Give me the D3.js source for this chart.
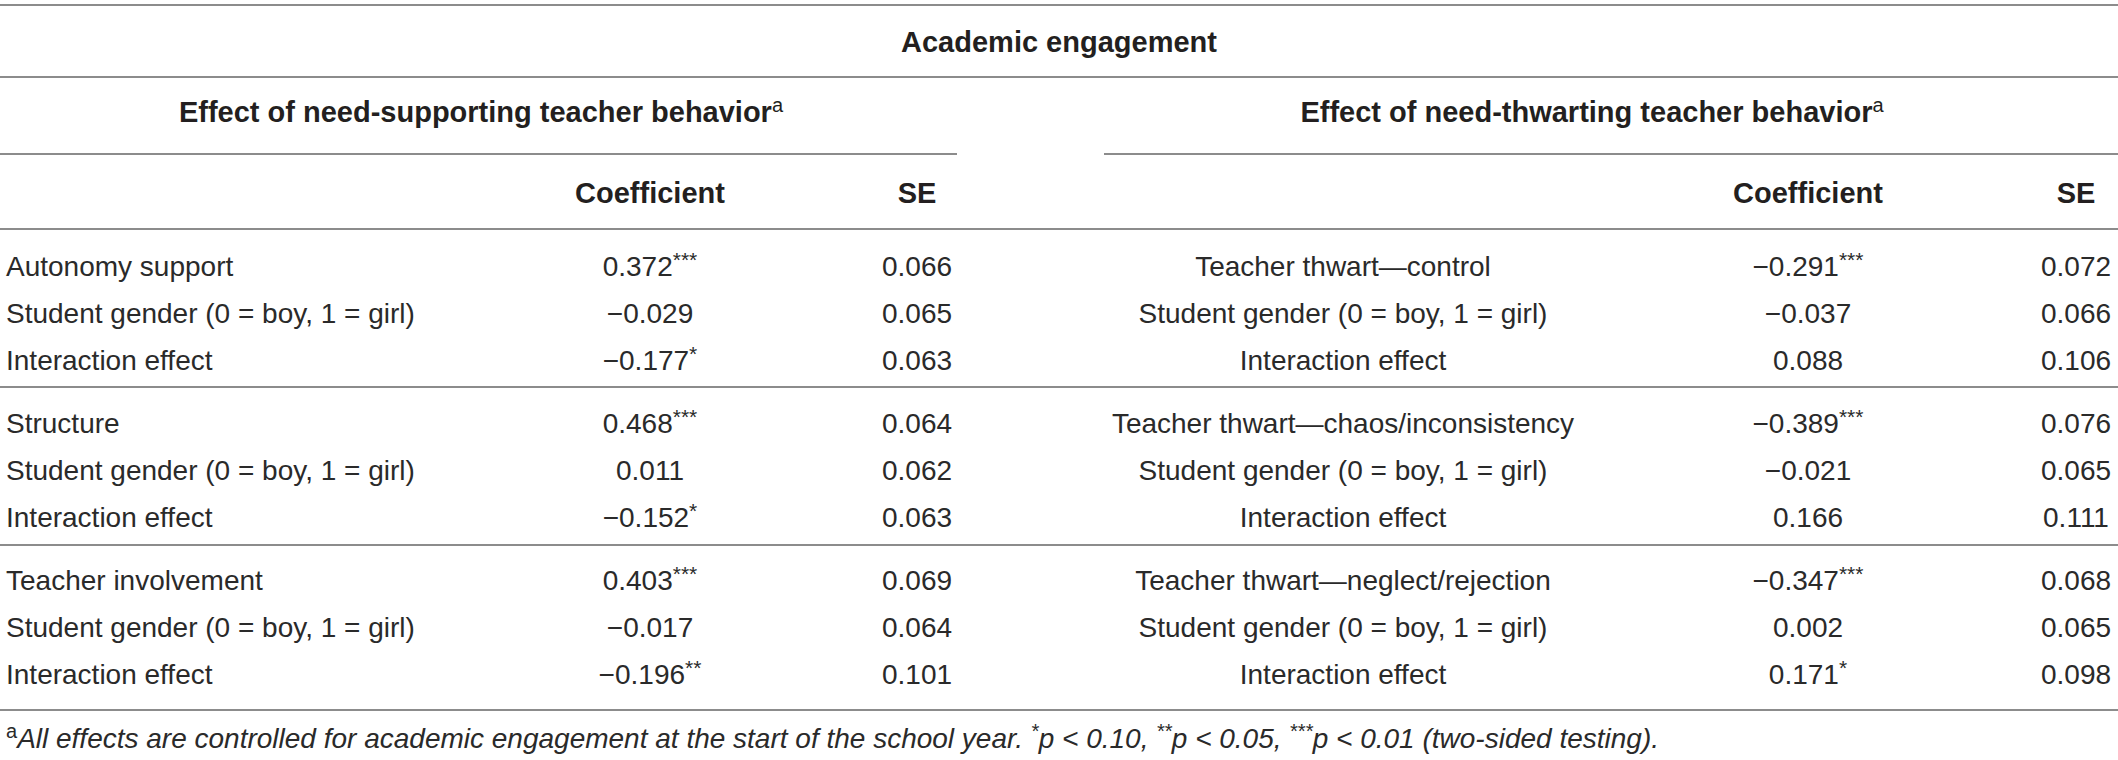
<!DOCTYPE html>
<html>
<head>
<meta charset="utf-8">
<script src="https://cdn.jsdelivr.net/npm/d3@7"></script>
<style>
  body { margin: 0; background: #fff; }
  svg text { font-family: "Liberation Sans", Arial, sans-serif; fill: #2a2a2a; }
  .bold { font-weight: bold; fill: #231f20; }
</style>
</head>
<body>
<svg id="chart" width="2118" height="760"></svg>
<script>
// Table contents
var title = "Academic engagement";
var groupHeaders = ["Effect of need-supporting teacher behavior", "Effect of need-thwarting teacher behavior"];
var colHeaders = ["Coefficient", "SE"];

var supportLabels = ["Autonomy support", "Student gender (0 = boy, 1 = girl)", "Interaction effect",
                     "Structure", "Student gender (0 = boy, 1 = girl)", "Interaction effect",
                     "Teacher involvement", "Student gender (0 = boy, 1 = girl)", "Interaction effect"];
var supportCoef = [0.372, -0.029, -0.177, 0.468, 0.011, -0.152, 0.403, -0.017, -0.196];
var supportStars = ["***", "", "*", "***", "", "*", "***", "", "**"];
var supportSE = [0.066, 0.065, 0.063, 0.064, 0.062, 0.063, 0.069, 0.064, 0.101];

var thwartLabels = ["Teacher thwart\u2014control", "Student gender (0 = boy, 1 = girl)", "Interaction effect",
                    "Teacher thwart\u2014chaos/inconsistency", "Student gender (0 = boy, 1 = girl)", "Interaction effect",
                    "Teacher thwart\u2014neglect/rejection", "Student gender (0 = boy, 1 = girl)", "Interaction effect"];
var thwartCoef = [-0.291, -0.037, 0.088, -0.389, -0.021, 0.166, -0.347, 0.002, 0.171];
var thwartStars = ["***", "", "", "***", "", "", "***", "", "*"];
var thwartSE = [0.072, 0.066, 0.106, 0.076, 0.065, 0.111, 0.068, 0.065, 0.098];

// footnote pieces: [text, superscript?]
var footnoteParts = [
  ["a", true],
  ["All effects are controlled for academic engagement at the start of the school year. ", false],
  ["*", true], ["p < 0.10, ", false],
  ["**", true], ["p < 0.05, ", false],
  ["***", true], ["p < 0.01 (two-sided testing).", false]
];

var W = 2118;
var svg = d3.select("#chart");
var fmt = d3.format(".3f"); // d3 v7 already uses the real minus sign

// Row placement: groups of three rows
var yGroup = d3.scalePoint().domain([0, 1, 2]).range([276, 590]);
var rowStep = 47;
function rowY(i) { return yGroup(Math.floor(i / 3)) + (i % 3) * rowStep; }

// Horizontal rules
function rule(x1, x2, y) {
  svg.append("line")
    .attr("x1", x1).attr("x2", x2)
    .attr("y1", y).attr("y2", y)
    .attr("stroke", "#8c8c8c")
    .attr("stroke-width", 2);
}
rule(0, W, 5);
rule(0, W, 77);
rule(0, 957, 154);
rule(1104, W, 154);
rule(0, W, 229);
rule(0, W, yGroup(1) - 46);
rule(0, W, yGroup(2) - 45);
rule(0, W, 710);

// Title
svg.append("text").attr("class", "bold")
  .attr("x", W / 2).attr("y", 52)
  .attr("text-anchor", "middle")
  .style("font-size", "29px")
  .text(title);

// Group headers with superscript a
[481, 1592].forEach(function(cx, i) {
  var t = svg.append("text").attr("class", "bold")
    .attr("x", cx).attr("y", 122)
    .attr("text-anchor", "middle")
    .style("font-size", "29px");
  t.append("tspan").text(groupHeaders[i]);
  t.append("tspan").attr("dy", -10).style("font-size", "20px").style("font-weight", "normal").text("a");
});

// Column headers
var cols = [
  {coef: 650, se: 917},
  {coef: 1808, se: 2076}
];
cols.forEach(function(c) {
  svg.append("text").attr("class", "bold")
    .attr("x", c.coef).attr("y", 203)
    .attr("text-anchor", "middle").style("font-size", "29px")
    .text(colHeaders[0]);
  svg.append("text").attr("class", "bold")
    .attr("x", c.se).attr("y", 203)
    .attr("text-anchor", "middle").style("font-size", "29px")
    .text(colHeaders[1]);
});

// Body rows for one half of the table
function drawHalf(labels, coef, stars, se, labelX, anchor, c) {
  var g = svg.append("g").style("font-size", "28px");

  g.selectAll(".lab").data(labels).enter()
    .append("text")
    .attr("x", labelX)
    .attr("y", function(d, i) { return rowY(i); })
    .attr("text-anchor", anchor)
    .text(function(d) { return d; });

  var ct = g.selectAll(".coef").data(coef).enter()
    .append("text")
    .attr("x", c.coef)
    .attr("y", function(d, i) { return rowY(i); })
    .attr("text-anchor", "middle");
  ct.append("tspan").text(function(d) { return fmt(d); });
  ct.append("tspan")
    .attr("dy", -9)
    .style("font-size", "21px")
    .text(function(d, i) { return stars[i]; });

  g.selectAll(".se").data(se).enter()
    .append("text")
    .attr("x", c.se)
    .attr("y", function(d, i) { return rowY(i); })
    .attr("text-anchor", "middle")
    .text(function(d) { return fmt(d); });
}

drawHalf(supportLabels, supportCoef, supportStars, supportSE, 6, "start", cols[0]);
drawHalf(thwartLabels, thwartCoef, thwartStars, thwartSE, 1343, "middle", cols[1]);

// Footnote
var fn = svg.append("text").attr("x", 6).attr("y", 748).style("font-size", "28px");
var raised = false;
footnoteParts.forEach(function(p, i) {
  var ts = fn.append("tspan").text(p[0]);
  if (p[1] && !raised) { ts.attr("dy", -10); raised = true; }
  else if (!p[1] && raised) { ts.attr("dy", 10); raised = false; }
  if (p[1]) ts.style("font-size", "20px");
  if (i > 0) ts.style("font-style", "italic");
});
</script>
</body>
</html>
